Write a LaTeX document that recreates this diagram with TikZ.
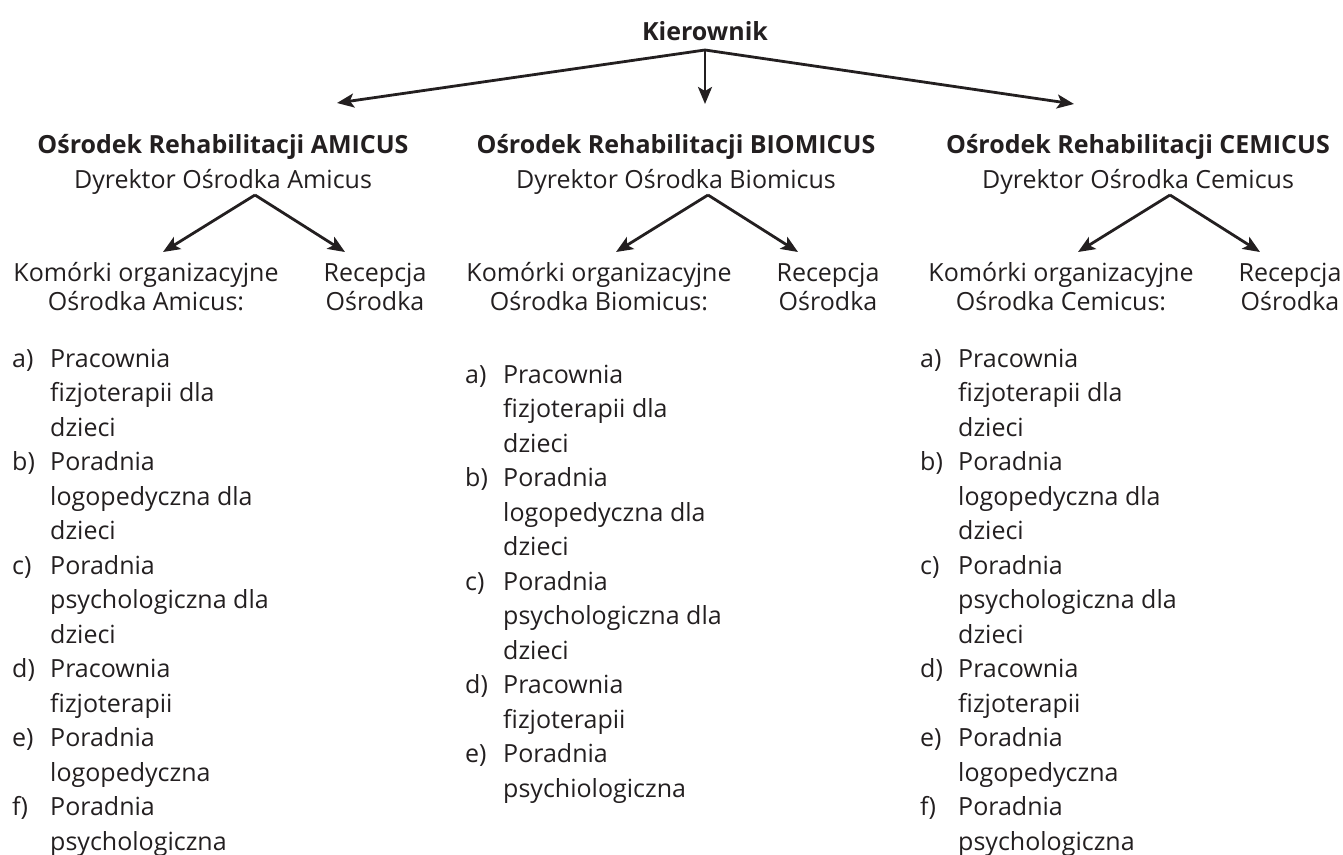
\documentclass[tikz,border=0pt]{standalone}
\usepackage{fontspec}
\setmainfont{Open Sans}
\usepackage{xcolor}
\usetikzlibrary{arrows.meta}
\usetikzlibrary{positioning}
\definecolor{druk}{HTML}{231F20}
\tikzset{
	strz/.style={-{Stealth[length=17pt,width=14pt,inset=4pt]}, line width=2.8pt, draw=druk},
	tytul/.style={font=\fontsize{25}{35}\selectfont\bfseries, text=druk, inner sep=0pt, anchor=base},
	napis/.style={font=\fontsize{25}{29}\selectfont, text=druk, inner sep=0pt, anchor=base},
	lista/.style={font=\fontsize{25}{34.5}\selectfont, text=druk, inner sep=0pt, anchor=base west}
}

\begin{document}
\begin{tikzpicture}[x=1pt,y=-1pt]
			\useasboundingbox (0,0) rectangle (1343,854);
			% kierownik
			\node[tytul] (kier) at (705,40) {Kierownik};
			\coordinate (kierDol) at (705,50);
			\coordinate (doA) at (337,103);
			\coordinate (doB) at (705,104);
			\coordinate (doC) at (1074,104);
			\draw[strz] (kierDol) -- (doA);
			\draw[strz] (kierDol) -- (doB);
			\draw[strz] (kierDol) -- (doC);
			
			% osrodki
			\node[tytul] (osrA) at (223,153) {Ośrodek Rehabilitacji AMICUS};
			\node[tytul] (osrB) at (676,153) {Ośrodek Rehabilitacji BIOMICUS};
			\node[tytul] (osrC) at (1138,153) {Ośrodek Rehabilitacji CEMICUS};
			\node[napis] (dyrA) at (223,188) {Dyrektor Ośrodka Amicus};
			\node[napis] (dyrB) at (676,188) {Dyrektor Ośrodka Biomicus};
			\node[napis] (dyrC) at (1138,188) {Dyrektor Ośrodka Cemicus};
			
			% komorki i recepcje
			\node[napis] (komA) at (146,281) {\begin{tabular}[t]{@{}c@{}}Komórki organizacyjne\\Ośrodka Amicus:\end{tabular}};
			\node[napis] (komB) at (599,281) {\begin{tabular}[t]{@{}c@{}}Komórki organizacyjne\\Ośrodka Biomicus:\end{tabular}};
			\node[napis] (komC) at (1061,281) {\begin{tabular}[t]{@{}c@{}}Komórki organizacyjne\\Ośrodka Cemicus:\end{tabular}};
			\node[napis] (recA) at (375,281) {\begin{tabular}[t]{@{}c@{}}Recepcja\\Ośrodka\end{tabular}};
			\node[napis] (recB) at (828,281) {\begin{tabular}[t]{@{}c@{}}Recepcja\\Ośrodka\end{tabular}};
			\node[napis] (recC) at (1290,281) {\begin{tabular}[t]{@{}c@{}}Recepcja\\Ośrodka\end{tabular}};
			
			\foreach \s/\x in {A/255, B/708, C/1170} {
				\coordinate (dyrDol\s) at (\x,195);
				\coordinate (doKom\s) at (\x-92,252);
				\coordinate (doRec\s) at (\x+90,252);
				\draw[strz] (dyrDol\s) -- (doKom\s);
				\draw[strz] (dyrDol\s) -- (doRec\s);
			}
			
			% listy komorek
			\node[lista] (listaA) at (12,367) {\begin{tabular}[t]{@{}p{38pt}@{}l@{}}
					a) & Pracownia\\ & fizjoterapii dla\\ & dzieci\\
					b) & Poradnia\\ & logopedyczna dla\\ & dzieci\\
					c) & Poradnia\\ & psychologiczna dla\\ & dzieci\\
					d) & Pracownia\\ & fizjoterapii\\
					e) & Poradnia\\ & logopedyczna\\
					f) & Poradnia\\ & psychologiczna
				\end{tabular}};
			\node[lista] (listaB) at (465,383) {\begin{tabular}[t]{@{}p{38pt}@{}l@{}}
					a) & Pracownia\\ & fizjoterapii dla\\ & dzieci\\
					b) & Poradnia\\ & logopedyczna dla\\ & dzieci\\
					c) & Poradnia\\ & psychologiczna dla\\ & dzieci\\
					d) & Pracownia\\ & fizjoterapii\\
					e) & Poradnia\\ & psychiologiczna
				\end{tabular}};
			\node[lista] (listaC) at (920,367) {\begin{tabular}[t]{@{}p{38pt}@{}l@{}}
					a) & Pracownia\\ & fizjoterapii dla\\ & dzieci\\
					b) & Poradnia\\ & logopedyczna dla\\ & dzieci\\
					c) & Poradnia\\ & psychologiczna dla\\ & dzieci\\
					d) & Pracownia\\ & fizjoterapii\\
					e) & Poradnia\\ & logopedyczna\\
					f) & Poradnia\\ & psychologiczna
				\end{tabular}};
		\end{tikzpicture}
\end{document}
